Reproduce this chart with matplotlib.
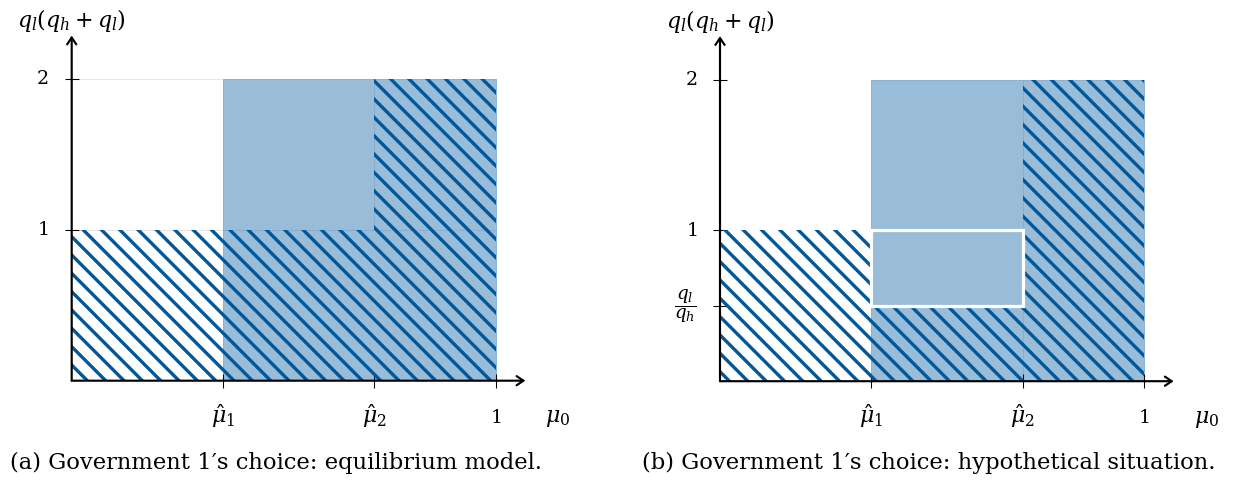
import matplotlib
matplotlib.use('Agg')
import matplotlib.pyplot as plt
from matplotlib.patches import Rectangle

# ---------------- data ----------------
mu_hat_1 = 0.356
mu_hat_2 = 0.714
mu_max = 1.0
q_ratio = 0.5          # q_l / q_h
q_levels = [1.0, 2.0]

x_tick_values = [mu_hat_1, mu_hat_2, mu_max]
x_tick_labels = [r'$\hat{\mu}_1$', r'$\hat{\mu}_2$', r'$1$']
y_tick_values_a = [1.0, 2.0]
y_tick_labels_a = [r'$1$', r'$2$']
y_tick_values_b = [q_ratio, 1.0, 2.0]
y_tick_labels_b = [r'$\dfrac{q_l}{q_h}$', r'$1$', r'$2$']

# regions: (mu_lo, mu_hi, q_lo, q_hi, filled, hatched)
regions_a = [
    (0.0, mu_hat_1, 1.0, 2.0, False, False),
    (mu_hat_1, mu_hat_2, 1.0, 2.0, True, False),
    (mu_hat_2, mu_max, 1.0, 2.0, True, True),
    (0.0, mu_hat_1, 0.0, 1.0, False, True),
    (mu_hat_1, mu_max, 0.0, 1.0, True, True),
]
regions_b = [
    (0.0, mu_hat_1, 0.0, 1.0, False, True),
    (mu_hat_1, mu_hat_2, 0.0, 2.0, True, False),
    (mu_hat_1, mu_hat_2, 0.0, q_ratio, False, True),
    (mu_hat_2, mu_max, 0.0, 2.0, True, True),
]
highlight_b = (mu_hat_1, mu_hat_2, q_ratio, 1.0)

captions = ['(a) Government 1\u2032s choice: equilibrium model.',
            '(b) Government 1\u2032s choice: hypothetical situation.']
y_axis_label = r'$q_l(q_h+q_l)$'
x_axis_label = r'$\mu_0$'

# ---------------- style ----------------
W, H, DPI = 1234, 487, 110
DARK = '#00589a'
LIGHT = '#99bcd8'
EDGE = '#86aed0'
plt.rcParams['mathtext.fontset'] = 'dejavuserif'
plt.rcParams['font.family'] = ['DejaVu Serif']
plt.rcParams['hatch.linewidth'] = 2.2

DIGIT_SIZE = 12.5
MATH_SIZE = 14.5
CAPTION_SIZE = 14.8

fig = plt.figure(figsize=(W / DPI, H / DPI), dpi=DPI)

X_END, Y_END = 1.07, 2.29
UX, UY = 424.0, 150.7       # pixels per data unit


def px(v):
    return v * 72.0 / DPI


def make_axes(origin_x, origin_y):
    w = X_END * UX
    h = Y_END * UY
    ax = fig.add_axes([origin_x / W, (H - origin_y) / H, w / W, h / H])
    ax.set_xlim(0, X_END)
    ax.set_ylim(0, Y_END)
    for s in ax.spines.values():
        s.set_visible(False)
    ax.patch.set_visible(False)
    return ax


def draw_regions(ax, regions):
    for (x0, x1, y0, y1, filled, hatched) in regions:
        if filled:
            ax.add_patch(Rectangle((x0, y0), x1 - x0, y1 - y0,
                                   facecolor=LIGHT, edgecolor=EDGE, lw=0.6, zorder=1))
        if hatched:
            ax.add_patch(Rectangle((x0, y0), x1 - x0, y1 - y0,
                                   facecolor='none', edgecolor=DARK, lw=0,
                                   hatch='\\\\', zorder=2))


def finish_axes(ax, yvals, ylabels):
    for end in [(X_END, 0), (0, Y_END)]:
        ax.annotate('', xy=end, xytext=(0, 0),
                    arrowprops=dict(arrowstyle='->,head_length=0.45,head_width=0.3',
                                    lw=1.4, color='black', shrinkA=0, shrinkB=0,
                                    mutation_scale=10),
                    annotation_clip=False, zorder=6)
    ax.set_xticks(x_tick_values)
    ax.set_xticklabels(x_tick_labels)
    ax.set_yticks(yvals)
    ax.set_yticklabels(ylabels)
    ax.tick_params(axis='both', direction='inout', length=px(14), width=0.7,
                   color='black')
    ax.tick_params(axis='x', pad=px(35))
    ax.tick_params(axis='y', pad=px(16))
    for lab in ax.get_xticklabels():
        lab.set_va('baseline')
        lab.set_fontsize(MATH_SIZE if 'mu' in lab.get_text() else DIGIT_SIZE)
    for lab in ax.get_yticklabels():
        lab.set_va('center')
        lab.set_fontsize(12 if 'frac' in lab.get_text() else DIGIT_SIZE)
    ax.text(1.147, -0.275, x_axis_label, fontsize=MATH_SIZE, ha='center',
            va='baseline', clip_on=False)
    ax.text(0, 2.39, y_axis_label, fontsize=MATH_SIZE, ha='center',
            va='center', clip_on=False)


# panel (a)
ax_a = make_axes(71.7, 380.7)
ax_a.add_patch(Rectangle((0, 1), mu_hat_1, 1, facecolor='white',
                         edgecolor='#e4e4e4', lw=0.6, zorder=0.5))
draw_regions(ax_a, regions_a[1:])
finish_axes(ax_a, y_tick_values_a, y_tick_labels_a)

# panel (b)
ax_b = make_axes(720.0, 381.2)
draw_regions(ax_b, regions_b)
hx0, hx1, hy0, hy1 = highlight_b
ax_b.add_patch(Rectangle((hx0, hy0), hx1 - hx0, hy1 - hy0, facecolor='none',
                         edgecolor='white', lw=px(3.2), zorder=3))
finish_axes(ax_b, y_tick_values_b, y_tick_labels_b)

fig.text(276 / W, 1 - 463 / H, captions[0], fontsize=CAPTION_SIZE, ha='center', va='center')
fig.text(929 / W, 1 - 463 / H, captions[1], fontsize=CAPTION_SIZE, ha='center', va='center')

fig.savefig('out.png', dpi=DPI)
